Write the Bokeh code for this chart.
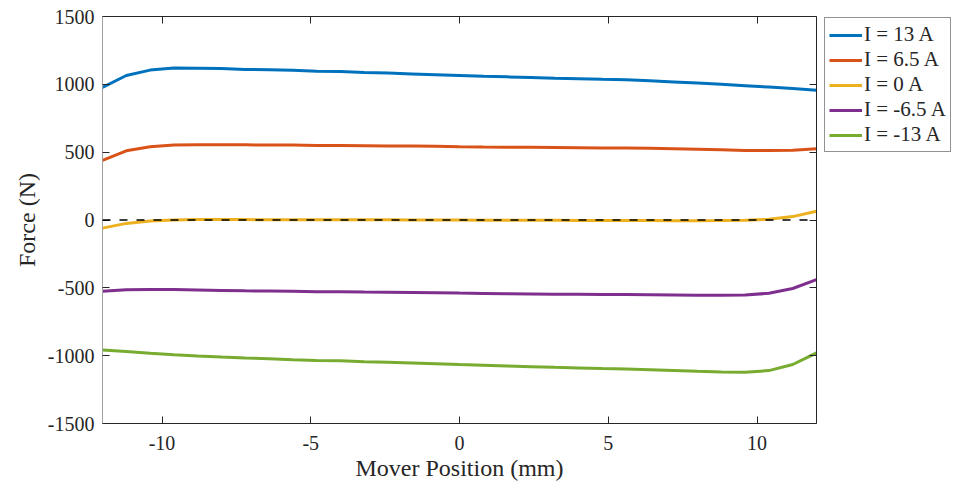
from bokeh.plotting import figure
from bokeh.layouts import row
from bokeh.models import (Legend, LegendItem, LinearAxis, FixedTicker, Span, Range1d,
                          PrintfTickFormatter, CustomJSTickFormatter)
from bokeh.embed import file_html
from bokeh.resources import INLINE

x_mm = [-12, -11.2, -10.4, -9.6, -8.8, -8, -7.2, -6.4, -5.6, -4.8, -4, -3.2, -2.4, -1.6, -0.8, 0,
        0.8, 1.6, 2.4, 3.2, 4, 4.8, 5.6, 6.4, 7.2, 8, 8.8, 9.6, 10.4, 11.2, 12]

f_p13 = [978, 1065, 1105, 1120, 1118, 1116, 1110, 1107, 1103, 1097, 1094, 1088, 1083, 1077, 1071, 1065,
         1059, 1055, 1050, 1045, 1042, 1037, 1033, 1026, 1018, 1010, 1000, 990, 980, 970, 957]
f_p65 = [440, 510, 540, 553, 555, 555, 554, 553, 552, 550, 550, 548, 546, 545, 543, 540,
         538, 537, 536, 535, 533, 531, 530, 528, 525, 521, 517, 513, 512, 515, 525]
f_0 = [-60, -25, -8, 0, 3, 3, 3, 2, 2, 2, 2, 1, 1, 0, 0, 0,
       -1, -1, -2, -2, -3, -3, -3, -4, -5, -5, -4, -2, 5, 25, 65]
f_m65 = [-525, -515, -512, -513, -516, -519, -522, -524, -526, -528, -529, -531, -532, -534, -536, -539,
         -541, -543, -545, -547, -548, -549, -550, -551, -553, -555, -555, -553, -540, -505, -440]
f_m13 = [-958, -970, -983, -993, -1002, -1010, -1017, -1023, -1030, -1035, -1038, -1044, -1049, -1054, -1060, -1066,
         -1071, -1076, -1081, -1086, -1090, -1095, -1099, -1104, -1109, -1115, -1120, -1122, -1110, -1065, -980]

series = [("I = 13 A", f_p13, "#0072BD"),
          ("I = 6.5 A", f_p65, "#D95319"),
          ("I = 0 A", f_0, "#EDB120"),
          ("I = -6.5 A", f_m65, "#7E2F8E"),
          ("I = -13 A", f_m13, "#77AC30")]

x_ticks = [-10, -5, 0, 5, 10]
y_ticks = [-1500, -1000, -500, 0, 500, 1000, 1500]

FONT = "Liberation Serif"
DARK = "#262626"

p = figure(width=823, height=484, output_backend="svg", toolbar_location=None,
           x_range=Range1d(-12, 12), y_range=Range1d(-1500, 1500),
           min_border_left=102, min_border_right=7, min_border_top=16, min_border_bottom=61)
p.outline_line_color = None
p.xgrid.visible = False
p.ygrid.visible = False
p.background_fill_color = "white"
p.border_fill_color = "white"

for label, ys, col in series:
    p.line(x_mm, ys, line_color=col, line_width=3)

p.add_layout(Span(location=0, dimension="width", line_color="black", line_width=1.5, line_dash="8 9"))


def style_axis(ax):
    ax.major_tick_in = 7
    ax.major_tick_out = 0
    ax.minor_tick_line_color = None
    ax.axis_line_color = DARK
    ax.major_tick_line_color = DARK
    ax.major_label_text_font = FONT
    ax.major_label_text_font_size = "20px"
    ax.major_label_text_color = DARK
    ax.axis_label_text_font = FONT
    ax.axis_label_text_font_size = "24px"
    ax.axis_label_text_font_style = "normal"
    ax.axis_label_text_color = DARK


xa = p.xaxis[0]
xa.ticker = FixedTicker(ticks=x_ticks)
xa.formatter = PrintfTickFormatter(format="%d")
style_axis(xa)
xa.axis_label = "Mover Position (mm)"
xa.major_label_standoff = 12
xa.axis_label_standoff = 2
xa.major_label_text_line_height = 0.9
xa.axis_label_text_line_height = 0.9

ya = p.yaxis[0]
ya.ticker = FixedTicker(ticks=y_ticks)
ya.formatter = PrintfTickFormatter(format="%d")
style_axis(ya)
ya.axis_label = "Force (N)"
ya.major_label_standoff = 8
ya.axis_line_color = "#a0a0a0"
ya.axis_label_standoff = 5

blank = CustomJSTickFormatter(code="return ''")

top = LinearAxis(ticker=FixedTicker(ticks=x_ticks), formatter=blank)
style_axis(top)
top.major_label_standoff = 0
p.add_layout(top, "above")

right = LinearAxis(ticker=FixedTicker(ticks=y_ticks), formatter=blank)
style_axis(right)
right.major_label_standoff = 0
p.add_layout(right, "right")

# Legend panel: a small figure to the right of the axes holding the legend
lg = figure(width=134, height=484, output_backend="svg", toolbar_location=None,
            x_range=Range1d(100, 101), y_range=Range1d(0, 1),
            x_axis_type=None, y_axis_type=None,
            min_border_left=0, min_border_right=0, min_border_top=15, min_border_bottom=0)
lg.outline_line_color = None
lg.xgrid.visible = False
lg.ygrid.visible = False
lg.background_fill_color = "white"
lg.border_fill_color = "white"

items = []
for label, ys, col in series:
    r = lg.line(x_mm, ys, line_color=col, line_width=3)
    items.append(LegendItem(label=label, renderers=[r]))

legend = Legend(items=items, location="top_left", orientation="vertical",
                label_text_font=FONT, label_text_font_size="21px", label_text_color=DARK,
                glyph_width=33, glyph_height=24, label_height=24, label_standoff=2,
                spacing=0, padding=4, margin=1,
                border_line_color=DARK, border_line_width=1,
                background_fill_color="white", background_fill_alpha=1.0)
lg.add_layout(legend, "center")

layout = row(p, lg, spacing=0)
open("out.html", "w").write(file_html(layout, INLINE))
